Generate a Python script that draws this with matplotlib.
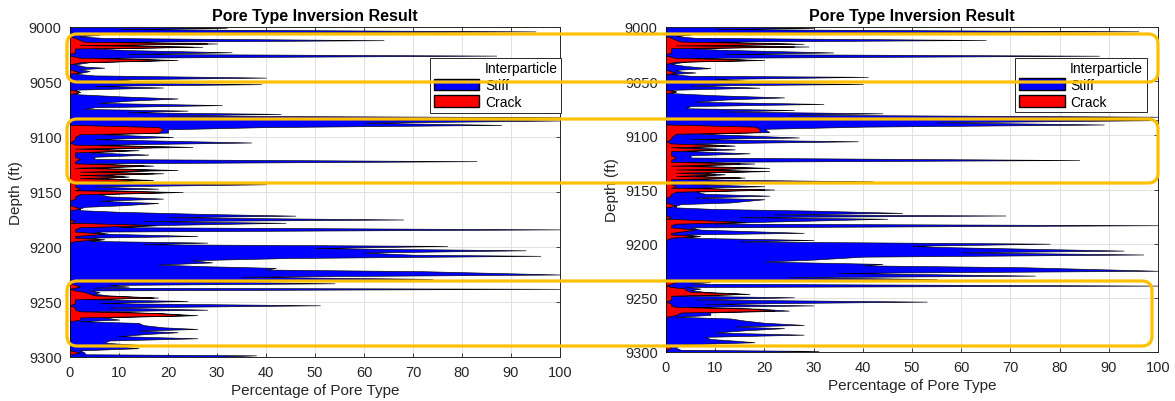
import numpy as np
import matplotlib
matplotlib.use('Agg')
import matplotlib.pyplot as plt
from matplotlib.patches import FancyBboxPatch, Patch

plt.rcParams['font.family'] = ['Liberation Sans', 'DejaVu Sans']

# ── Left well: depth (ft), stiff %, crack %
depth_l = [9000, 9001, 9002, 9004, 9005.5, 9007, 9008.5, 9010, 9012, 9013.5,
           9015, 9016.5, 9018, 9019.5, 9021, 9023, 9024.5, 9026, 9028, 9030,
           9032, 9034, 9036, 9037, 9038.5, 9040, 9041, 9042.5, 9044, 9046,
           9047.5, 9049, 9050.5, 9052, 9053.5, 9055, 9057, 9059, 9061, 9063,
           9065, 9067, 9069, 9071, 9073, 9074.5, 9076, 9077.5, 9079, 9080.5,
           9082, 9083.5, 9085, 9087, 9089, 9091, 9093, 9096, 9097.5, 9100,
           9102, 9105, 9107, 9109, 9110.5, 9112, 9114, 9116, 9118, 9120,
           9122, 9124, 9126, 9128, 9130, 9131.5, 9133, 9134.5, 9136, 9137.5,
           9139, 9141, 9143, 9145, 9147, 9148.5, 9150, 9152, 9154, 9156,
           9158, 9160, 9162, 9163.5, 9165, 9166.5, 9168, 9170, 9171.5, 9173,
           9175, 9176.5, 9178, 9180, 9182, 9184, 9186, 9188, 9190, 9191.5,
           9193, 9194.5, 9196, 9197.5, 9199, 9201, 9203, 9205, 9207, 9208,
           9210, 9212, 9214, 9216, 9217.5, 9219, 9220.5, 9222, 9225, 9227,
           9229, 9231, 9233, 9234.5, 9236, 9237, 9238, 9239.5, 9241, 9242.5,
           9244, 9246, 9247.5, 9249, 9251, 9253, 9255, 9257, 9258.5, 9260,
           9262, 9264, 9266, 9267.5, 9269, 9271, 9273, 9274.5, 9276, 9277.5,
           9279, 9281, 9283, 9285, 9287, 9289, 9290.5, 9292, 9294, 9296,
           9297.5, 9298.5, 9300]
stiff_l = [14, 32, 10, 95, 4, 6, 2, 6, 62, 6,
           2, 5, 2, 4, 11, 32, 12, 87, 4, 2,
           2, 1, 3, 7, 2, 3, 1, 1, 5, 40,
           10, 13, 8, 39, 5, 19, 1, 0, 1, 10,
           22, 12, 6, 31, 5, 3, 24, 12, 43, 20,
           100, 45, 100, 60, 88, 22, 1, 2, 5, 20,
           4, 37, 5, 5, 3, 2, 3, 15, 4, 3,
           82, 3, 2, 4, 4, 4, 2, 5, 1, 4,
           2, 3, 39, 4, 16, 3, 2, 4, 7, 18,
           6, 18, 11, 2, 0, 2, 10, 28, 46, 20,
           68, 14, 44, 2, 8, 99, 4, 1, 25, 3,
           1, 3, 28, 15, 77, 50, 93, 60, 70, 96,
           45, 25, 29, 18, 28, 42, 40, 72, 100, 35,
           74, 20, 54, 7, 10, 4, 100, 3, 3, 1,
           3, 1, 2, 23, 5, 51, 7, 27, 3, 1,
           2, 5, 8, 2, 14, 15, 19, 26, 14, 22,
           16, 10, 26, 8, 7, 14, 10, 14, 2, 1,
           3, 38, 29]
crack_l = [0, 0, 0, 0, 0, 0, 0, 1, 2, 3,
           28, 2, 25, 1, 1, 1, 0, 0, 2, 20,
           2, 0, 0, 0, 0, 1, 2, 0, 0, 0,
           0, 0, 0, 0, 0, 0, 0, 2, 0, 0,
           0, 0, 0, 0, 0, 0, 0, 0, 0, 0,
           0, 0, 0, 0, 0, 18, 19, 18, 2, 1,
           1, 0, 1, 20, 1, 12, 1, 1, 1, 2,
           1, 1, 15, 1, 18, 2, 17, 2, 11, 2,
           15, 1, 1, 1, 2, 1, 21, 2, 1, 1,
           0, 0, 0, 1, 2, 0, 0, 0, 0, 0,
           0, 1, 0, 17, 2, 1, 1, 7, 1, 1,
           6, 1, 0, 0, 0, 0, 0, 0, 0, 0,
           0, 0, 0, 0, 0, 0, 0, 0, 0, 0,
           0, 0, 0, 1, 2, 1, 0, 1, 3, 4,
           5, 17, 1, 1, 1, 0, 1, 1, 2, 17,
           24, 2, 2, 0, 0, 0, 0, 0, 0, 0,
           0, 0, 0, 0, 0, 0, 0, 0, 0, 2,
           0, 0, 0]

# ── Right well: depth (ft), stiff %, crack %
depth_r = [9000, 9001, 9002, 9004, 9005.5, 9007, 9008.5, 9010, 9012, 9013.5,
           9015.5, 9017, 9018, 9019.5, 9021, 9023.5, 9025, 9026.5, 9028.5, 9030.5,
           9032, 9034, 9036, 9038, 9039.5, 9041, 9042, 9043.5, 9045, 9046,
           9048, 9049.5, 9051, 9052.6, 9054, 9056, 9058, 9059.5, 9061, 9063,
           9065, 9067, 9069, 9071, 9073, 9075, 9076.6, 9078, 9079.7, 9081,
           9082.8, 9084.5, 9086, 9088, 9090, 9092, 9094, 9097, 9098.5, 9102,
           9103.5, 9105.5, 9107.5, 9109.5, 9111, 9113, 9114.5, 9116.6, 9118.5, 9120.5,
           9122.8, 9124.5, 9126, 9128, 9130, 9131.5, 9133, 9134.5, 9136, 9137.5,
           9139, 9140.5, 9142.5, 9145, 9147, 9148.5, 9150, 9152, 9154, 9155.7,
           9157.5, 9159, 9162, 9163.5, 9165, 9166.5, 9168, 9169.5, 9171.6, 9173,
           9174, 9175.5, 9177, 9180, 9181.5, 9183, 9185, 9187, 9190, 9191.5,
           9193, 9194.5, 9196.6, 9198, 9200, 9202, 9203, 9206.4, 9208, 9210,
           9212, 9214.7, 9216.5, 9218.7, 9220, 9221.8, 9225, 9227, 9229.5, 9231,
           9232.6, 9234, 9235.5, 9237, 9238.7, 9240, 9241.5, 9243, 9244.5, 9246.4,
           9248, 9249.5, 9251.5, 9253.5, 9255.5, 9257, 9258.5, 9260, 9261.8, 9263.5,
           9265.8, 9267.5, 9269, 9271, 9273, 9275, 9276.5, 9278, 9280, 9282,
           9284, 9286, 9288, 9289.5, 9291, 9293, 9296, 9298, 9299, 9300]
stiff_r = [15, 30, 10, 96, 4, 5, 2, 5, 63, 6,
           2, 5, 3, 4, 10, 33, 12, 88, 4, 2,
           2, 1, 4, 9, 2, 2, 4, 1, 5, 41,
           10, 16, 8, 40, 5, 19, 1, 0, 1, 10,
           24, 12, 6, 32, 5, 4, 26, 12, 44, 25,
           100, 50, 100, 55, 89, 22, 1, 2, 5, 26,
           4, 39, 5, 2, 4, 4, 3, 16, 4, 3,
           83, 3, 3, 4, 3, 4, 3, 5, 2, 4,
           1, 3, 41, 4, 18, 3, 2, 4, 7, 20,
           6, 20, 13, 2, 0, 2, 10, 30, 48, 22,
           69, 14, 45, 2, 8, 99, 4, 1, 27, 3,
           1, 3, 30, 15, 78, 50, 55, 93, 60, 97,
           40, 30, 20, 44, 40, 73, 100, 35, 75, 25,
           55, 6, 7, 4, 100, 3, 3, 1, 3, 1,
           2, 25, 5, 53, 7, 29, 3, 2, 3, 6,
           7, 2, 13, 16, 20, 28, 14, 24, 16, 10,
           28, 8, 9, 14, 18, 3, 1, 3, 31, 20]
crack_r = [0, 0, 0, 0, 0, 0, 0, 1, 2, 3,
           26, 2, 26, 1, 1, 1, 0, 0, 2, 18,
           2, 0, 0, 0, 0, 1, 2, 0, 0, 0,
           0, 0, 0, 0, 0, 0, 0, 2, 0, 0,
           0, 0, 0, 0, 0, 0, 0, 0, 0, 0,
           0, 0, 0, 0, 0, 18, 19, 19, 2, 1,
           1, 0, 1, 12, 1, 10, 1, 1, 1, 2,
           1, 1, 15, 1, 18, 2, 18, 2, 10, 2,
           15, 1, 1, 1, 2, 1, 20, 2, 1, 1,
           0, 0, 0, 1, 2, 0, 0, 0, 0, 0,
           0, 1, 0, 16, 2, 1, 1, 6, 1, 1,
           6, 1, 0, 0, 0, 0, 0, 0, 0, 0,
           0, 0, 0, 0, 0, 0, 0, 0, 0, 0,
           0, 2, 2, 1, 0, 1, 4, 4, 5, 16,
           1, 1, 1, 0, 1, 1, 2, 17, 22, 3,
           2, 0, 0, 0, 0, 0, 0, 0, 0, 0,
           0, 0, 0, 0, 0, 0, 1, 0, 0, 0]

xticks = np.arange(0, 101, 10)
yticks = np.arange(9000, 9301, 50)

TXT = '#262626'


def draw_panel(ax, depth, stiff, crack, legend_right):
    depth = np.array(depth, dtype=float)
    stiff = np.array(stiff, dtype=float)
    crack = np.array(crack, dtype=float)
    total = np.minimum(crack + stiff, 100)
    ax.fill_betweenx(depth, 0, crack, facecolor='#ff0000',
                     edgecolor='black', linewidth=0.45, zorder=3)
    ax.fill_betweenx(depth, crack, total, facecolor='#0000ff',
                     edgecolor='black', linewidth=0.45, zorder=2)
    ax.set_xlim(0, 100)
    ax.set_ylim(9300, 9000)
    ax.set_xticks(xticks)
    ax.set_yticks(yticks)
    ax.grid(True, color='#dcdcdc', linewidth=0.6)
    ax.set_axisbelow(True)
    ax.tick_params(direction='in', top=True, right=True, length=3,
                   width=0.6, colors=TXT, labelsize=10.5, pad=6)
    for sp in ax.spines.values():
        sp.set_color(TXT)
        sp.set_linewidth(0.7)
    ax.set_title("Pore Type Inversion Result", fontsize=11.5,
                 fontweight='bold', pad=5)
    ax.set_xlabel("Percentage of Pore Type", fontsize=11, color=TXT, labelpad=3)
    ax.set_ylabel("Depth (ft)", fontsize=11, color=TXT, labelpad=4)
    handles = [Patch(facecolor='white', edgecolor='white', label='Interparticle'),
               Patch(facecolor='#0000ff', edgecolor='black', label='Stiff'),
               Patch(facecolor='#ff0000', edgecolor='black', label='Crack')]
    leg = ax.legend(handles=handles, loc='upper right',
                    bbox_to_anchor=(legend_right, 0.906), fontsize=10,
                    fancybox=False, framealpha=1, edgecolor=TXT,
                    handlelength=3.3, handleheight=0.9, labelspacing=0.2,
                    borderpad=0.25, handletextpad=0.4, borderaxespad=0)
    leg.get_frame().set_linewidth(0.7)
    leg.set_zorder(5)


fig = plt.figure(figsize=(11.75, 4.02), dpi=100)
ax1 = fig.add_axes([70 / 1175, 1 - 358 / 402, 490 / 1175, 330 / 402])
ax2 = fig.add_axes([666 / 1175, 1 - 353 / 402, 492 / 1175, 325 / 402])

draw_panel(ax1, depth_l, stiff_l, crack_l, 1.003)
draw_panel(ax2, depth_r, stiff_r, crack_r, 0.977)

# highlighted depth intervals, in pixel units of the figure
boxes = [(67, 35, 1158, 83), (67, 120, 1158, 184), (67, 282, 1152, 347)]
for x0, y0, x1, y1 in boxes:
    rect = FancyBboxPatch((x0 / 100, (402 - y1) / 100), (x1 - x0) / 100,
                          (y1 - y0) / 100,
                          boxstyle="round,pad=0,rounding_size=0.1",
                          transform=fig.dpi_scale_trans, fill=False,
                          edgecolor='#ffc000', linewidth=2.3, zorder=10)
    fig.add_artist(rect)

fig.savefig("out.png", dpi=100)
